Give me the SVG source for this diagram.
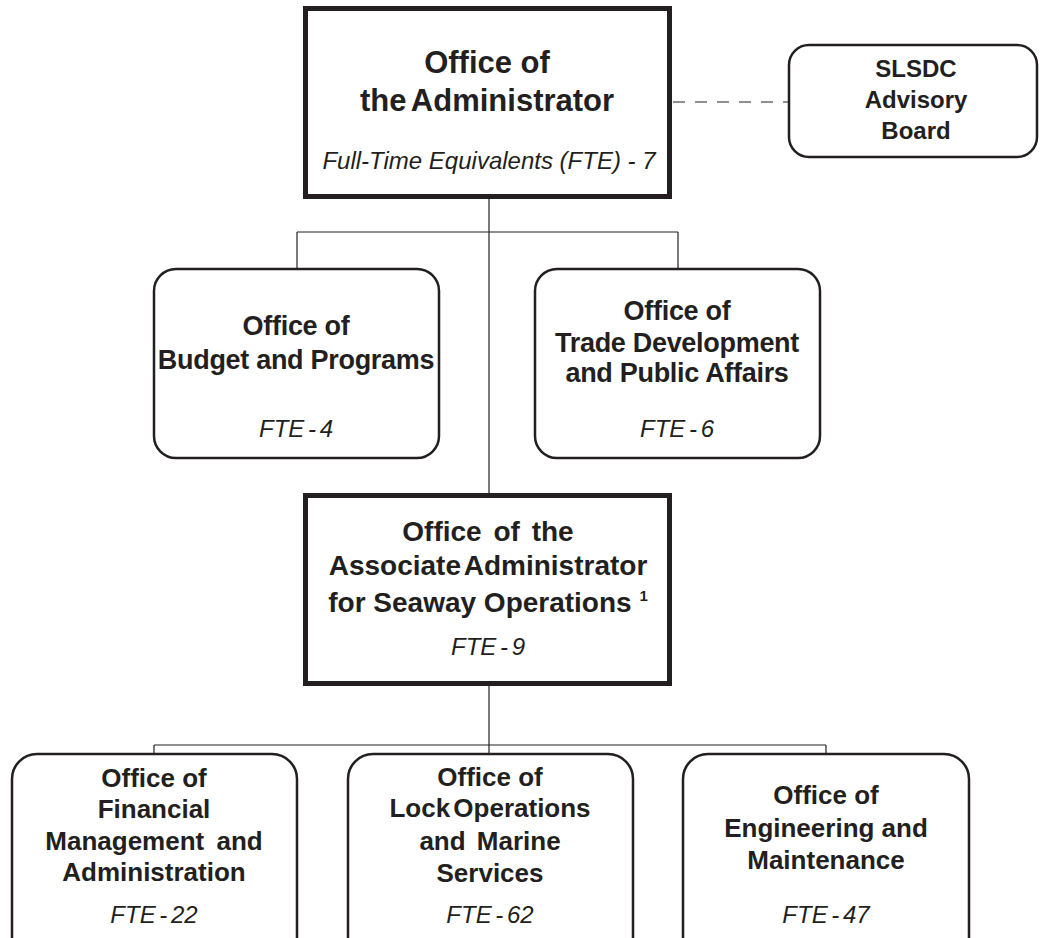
<svg xmlns="http://www.w3.org/2000/svg" width="1040" height="938" viewBox="0 0 1040 938">
  <style>
    .bg { fill: #ffffff; }
    .main { fill: #ffffff; stroke: #231f20; stroke-width: 5; }
    .sub { fill: #ffffff; stroke: #231f20; stroke-width: 2.5; }
    .conn { fill: none; stroke: #231f20; stroke-width: 1.2; }
    .dash { fill: none; stroke: #231f20; stroke-width: 1.2; stroke-dasharray: 12 10; }
    .t { font-family: "Liberation Sans", Arial, sans-serif; font-weight: bold; fill: #231f20; text-anchor: middle; }
    .fte { font-family: "Liberation Sans", Arial, sans-serif; font-style: italic; fill: #231f20; text-anchor: middle; }
  </style>
  <rect class="bg" x="0" y="0" width="1040" height="938"/>

  <g id="connectors">
    <line class="conn" x1="489" y1="199" x2="489" y2="493"/>
    <line class="conn" x1="297" y1="232" x2="678" y2="232"/>
    <line class="conn" x1="297" y1="232" x2="297" y2="269"/>
    <line class="conn" x1="678" y1="232" x2="678" y2="269"/>
    <line class="conn" x1="489" y1="686" x2="489" y2="754"/>
    <line class="conn" x1="154" y1="745" x2="826" y2="745"/>
    <line class="conn" x1="154" y1="745" x2="154" y2="754"/>
    <line class="conn" x1="826" y1="745" x2="826" y2="754"/>
    <line class="dash" x1="673" y1="102" x2="789" y2="102"/>
  </g>

  <g id="node-administrator">
    <rect class="main" x="305.5" y="8.5" width="364" height="188"/>
    <text class="t" x="487" y="73" font-size="31">Office of</text>
    <text class="t" x="487" y="111" font-size="31" word-spacing="-3">the Administrator</text>
    <text class="fte" x="489" y="169" font-size="24">Full-Time Equivalents (FTE) - 7</text>
  </g>

  <g id="node-advisory">
    <rect class="sub" x="789" y="45" width="248" height="112" rx="20"/>
    <text class="t" x="916" y="77" font-size="24">SLSDC</text>
    <text class="t" x="916" y="108" font-size="24">Advisory</text>
    <text class="t" x="916" y="139" font-size="24">Board</text>
  </g>

  <g id="node-budget">
    <rect class="sub" x="154" y="269" width="285" height="189" rx="22"/>
    <text class="t" x="296" y="335" font-size="27" letter-spacing="-0.3">Office of</text>
    <text class="t" x="296" y="369" font-size="27" letter-spacing="-0.3">Budget and Programs</text>
    <text class="fte" x="296" y="437" font-size="24" word-spacing="-3">FTE - 4</text>
  </g>

  <g id="node-trade">
    <rect class="sub" x="535" y="269" width="285" height="189" rx="22"/>
    <text class="t" x="677" y="320" font-size="27" letter-spacing="-0.3">Office of</text>
    <text class="t" x="677" y="352" font-size="27" letter-spacing="-0.3">Trade  Development</text>
    <text class="t" x="677" y="382" font-size="27" letter-spacing="-0.3">and Public Affairs</text>
    <text class="fte" x="677" y="437" font-size="24" word-spacing="-3">FTE - 6</text>
  </g>

  <g id="node-associate">
    <rect class="main" x="305.5" y="495.5" width="364" height="188"/>
    <text class="t" x="488" y="541" font-size="28" word-spacing="4">Office of the</text>
    <text class="t" x="488" y="575" font-size="28" word-spacing="-4">Associate Administrator</text>
    <text class="t" x="488" y="612" font-size="28">for Seaway Operations <tspan font-size="15" dy="-11">1</tspan></text>
    <text class="fte" x="488" y="655" font-size="24" word-spacing="-3">FTE - 9</text>
  </g>

  <g id="node-financial">
    <rect class="sub" x="12" y="754" width="285" height="220" rx="25"/>
    <text class="t" x="154" y="787" font-size="26">Office of</text>
    <text class="t" x="154" y="818" font-size="26">Financial</text>
    <text class="t" x="154" y="850" font-size="26" word-spacing="5">Management and</text>
    <text class="t" x="154" y="881" font-size="26">Administration</text>
    <text class="fte" x="154" y="923" font-size="24" word-spacing="-3">FTE - 22</text>
  </g>

  <g id="node-lock">
    <rect class="sub" x="348" y="754" width="285" height="220" rx="25"/>
    <text class="t" x="490" y="786" font-size="26">Office of</text>
    <text class="t" x="490" y="817" font-size="26" word-spacing="-4">Lock Operations</text>
    <text class="t" x="490" y="850" font-size="26" word-spacing="4">and Marine</text>
    <text class="t" x="490" y="882" font-size="26">Services</text>
    <text class="fte" x="490" y="923" font-size="24" word-spacing="-3">FTE - 62</text>
  </g>

  <g id="node-engineering">
    <rect class="sub" x="683" y="754" width="286" height="220" rx="25"/>
    <text class="t" x="826" y="804" font-size="26">Office of</text>
    <text class="t" x="826" y="837" font-size="26">Engineering and</text>
    <text class="t" x="826" y="869" font-size="26">Maintenance</text>
    <text class="fte" x="826" y="923" font-size="24" word-spacing="-3">FTE - 47</text>
  </g>
</svg>
